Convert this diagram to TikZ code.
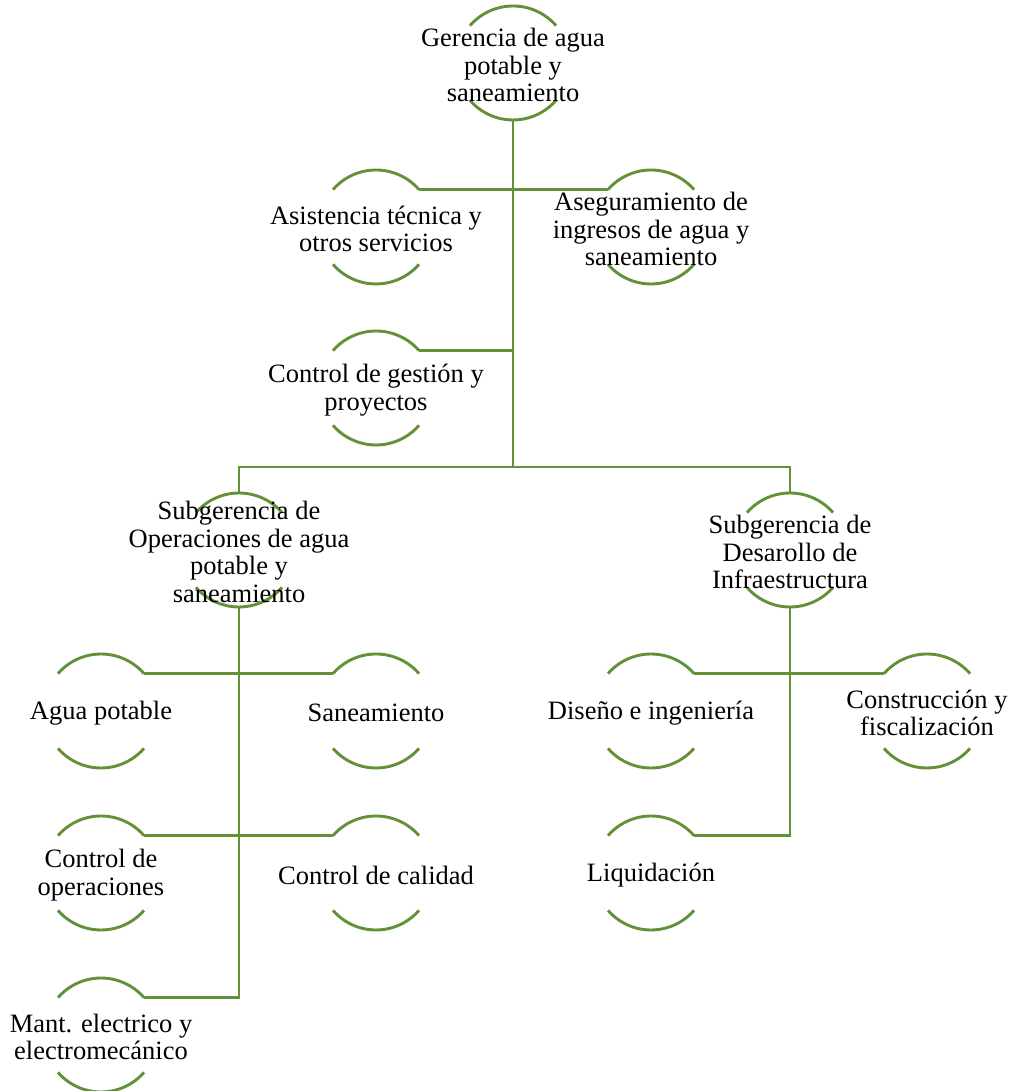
\documentclass[tikz,border=0pt]{standalone}
\usepackage{fontspec}
\setmainfont{Liberation Serif}
\definecolor{orgGreen}{RGB}{98,145,55}
\tikzset{
  unit/.style={circle, minimum size=114pt, inner sep=0pt, outer sep=0pt},
  link/.style={draw=orgGreen, line width=2.9pt},
  rim/.style={draw=orgGreen, line width=2.9pt},
  txt/.style={align=center, inner sep=0pt, text=black, yshift=-2pt,
    font=\fontsize{26.5}{27.5}\selectfont}
}
\begin{document}
\begin{tikzpicture}[x=1pt,y=1pt]
\useasboundingbox (0,0) rectangle (1013,1091);
% unit circles (only their upper and lower arcs are drawn)
\node[unit] (ger) at (513,1028) {};
\node[unit] (asi) at (376,864) {};
\node[unit] (ase) at (651,864) {};
\node[unit] (cge) at (376,703) {};
\node[unit] (sop) at (239,541) {};
\node[unit] (sdi) at (790,541) {};
\node[unit] (agu) at (101,380) {};
\node[unit] (san) at (376,380) {};
\node[unit] (cop) at (101,218) {};
\node[unit] (cca) at (376,218) {};
\node[unit] (man) at (101,56) {};
\node[unit] (dis) at (651,380) {};
\node[unit] (con) at (927,380) {};
\node[unit] (liq) at (651,218) {};
\coordinate (bar) at (513,624);

% connectors
\draw[link] (ger.south) -- (bar);
\draw[link] (asi.41) -- (ase.139);
\draw[link] (cge.41) -- (cge.41 -| ger.south);
\draw[link] (sop.north) |- (bar) -| (sdi.north);
\draw[link] (sop.south) |- (man.41);
\draw[link] (agu.41) -- (san.139);
\draw[link] (cop.41) -- (cca.139);
\draw[link] (sdi.south) |- (liq.41);
\draw[link] (dis.41) -- (con.139);

% arcs above and below each unit
\foreach \n in {ger,asi,ase,cge,sop,sdi,agu,san,cop,cca,man,dis,con,liq}{
  \draw[rim] (\n.41) arc[start angle=41, end angle=139, radius=57pt];
  \draw[rim] (\n.221) arc[start angle=221, end angle=319, radius=57pt];
}

% labels
\node[txt] (ger-t) at (ger) {Gerencia de agua\\potable y\\saneamiento};
\node[txt] (asi-t) at (asi) {Asistencia técnica y\\otros servicios};
\node[txt] (ase-t) at (ase) {Aseguramiento de\\ingresos de agua y\\saneamiento};
\node[txt] (cge-t) at (cge) {Control de gestión y\\proyectos};
\node[txt] (sop-t) at (sop) {Subgerencia de\\Operaciones de agua\\potable y\\saneamiento};
\node[txt] (sdi-t) at (sdi) {Subgerencia de\\Desarollo de\\Infraestructura};
\node[txt] (agu-t) at (agu) {Agua potable};
\node[txt] (san-t) at (san) {Saneamiento};
\node[txt] (cop-t) at (cop) {Control de\\operaciones};
\node[txt] (cca-t) at (cca) {Control de calidad};
\node[txt] (man-t) at (man) {Mant. electrico y\\electromecánico};
\node[txt] (dis-t) at (dis) {Diseño e ingeniería};
\node[txt] (con-t) at (con) {Construcción y\\fiscalización};
\node[txt] (liq-t) at (liq) {Liquidación};
\end{tikzpicture}
\end{document}
